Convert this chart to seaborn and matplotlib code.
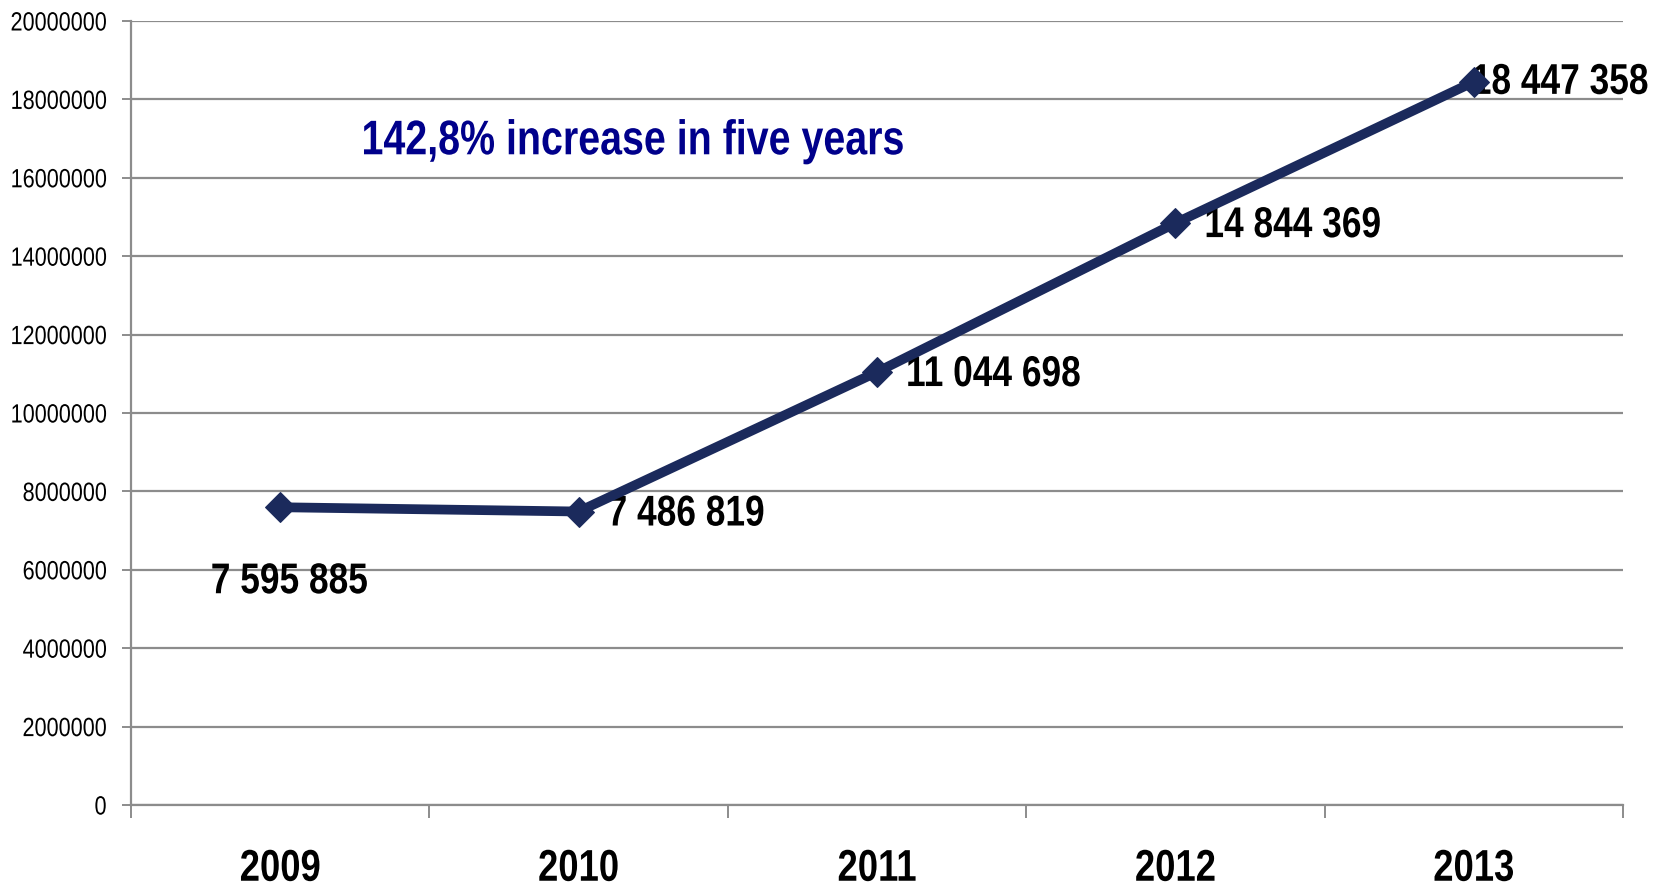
import numpy as np
import pandas as pd
import matplotlib
matplotlib.use("Agg")
import matplotlib.pyplot as plt
from matplotlib import patheffects
from matplotlib.transforms import Affine2D
import seaborn as sns

years = ["2009", "2010", "2011", "2012", "2013"]
visitors = [7595885, 7486819, 11044698, 14844369, 18447358]
value_labels = ["7 595 885", "7 486 819", "11 044 698", "14 844 369", "18 447 358"]
y_ticks = [0, 2000000, 4000000, 6000000, 8000000, 10000000,
           12000000, 14000000, 16000000, 18000000, 20000000]
headline = "142,8% increase in five years"

sns.set_theme(style="white")
plt.rcParams["font.family"] = ["Liberation Sans", "DejaVu Sans"]


class Narrow(patheffects.AbstractPathEffect):
    """Draws text horizontally condensed, keeping its alignment anchor."""

    def __init__(self, sx=0.82, ha="left"):
        super().__init__()
        self.sx = sx
        self.ha = ha

    def draw_path(self, renderer, gc, tpath, affine, rgbFace=None):
        ext = tpath.get_extents()
        if self.ha == "center":
            cx = (ext.x0 + ext.x1) / 2
        elif self.ha == "right":
            cx = ext.x1
        else:
            cx = 0.0
        squeeze = Affine2D().translate(-cx, 0).scale(self.sx, 1).translate(cx, 0)
        renderer.draw_path(gc, tpath, squeeze + affine, rgbFace)


line_color = "#1b2a5c"
grid_color = "#8c8c8c"

df = pd.DataFrame({"year": years, "visitors": visitors})

fig = plt.figure(figsize=(16.58, 8.88), dpi=100)
ax = fig.add_axes([131 / 1658, 1 - 805 / 888, 1492 / 1658, 784 / 888])

sns.lineplot(data=df, x="year", y="visitors", ax=ax, color=line_color,
             linewidth=7, marker="D", markersize=15.5, markeredgecolor=line_color,
             zorder=5, sort=False)

ax.set_xlim(-0.5, len(years) - 0.5)
ax.set_ylim(0, 20000000)
ax.set_yticks(y_ticks)
ax.set_yticklabels([str(v) for v in y_ticks],
                   path_effects=[Narrow(0.82, "right")])
ax.set_xticks(range(len(years)))
ax.set_xticklabels(years, fontweight="bold",
                   path_effects=[Narrow(0.82, "center")])
ax.set_xlabel("")
ax.set_ylabel("")

# horizontal gridlines
ax.yaxis.grid(True, color=grid_color, linewidth=1.6)
ax.xaxis.grid(False)
ax.set_axisbelow(True)
for side in ("top", "right"):
    ax.spines[side].set_visible(False)
for side in ("left", "bottom"):
    ax.spines[side].set_color(grid_color)
    ax.spines[side].set_linewidth(1.6)

ax.tick_params(axis="y", which="major", left=True, length=6.5, width=1.4,
               color=grid_color, labelsize=19, pad=11, labelcolor="black")
ax.tick_params(axis="x", which="major", bottom=False, length=0, pad=31.5,
               labelsize=32, labelcolor="black")

# category boundary ticks
ax.set_xticks(np.arange(-0.5, len(years)), minor=True)
ax.tick_params(axis="x", which="minor", bottom=True, length=9.5, width=1.4,
               color=grid_color)

# value labels (offsets in pixels)
offsets = [(9, -75, "center"), (29, -3, "left"), (29, -3, "left"),
           (29, -3, "left"), (-2, -1, "left")]
for i, (txt, (dx, dy, ha)) in enumerate(zip(value_labels, offsets)):
    ax.annotate(txt, xy=(i, visitors[i]), xytext=(dx * 0.72, dy * 0.72),
                textcoords="offset points", ha=ha, va="center",
                fontsize=31, fontweight="bold", color="black", zorder=3,
                path_effects=[Narrow(0.82, ha)])

ax.text(0.1545, 16600000, headline, transform=ax.get_yaxis_transform(),
        ha="left", va="baseline", fontsize=35, fontweight="bold",
        color="#00008b", path_effects=[Narrow(0.81, "left")])

fig.savefig("out.png", dpi=100, facecolor="white")
